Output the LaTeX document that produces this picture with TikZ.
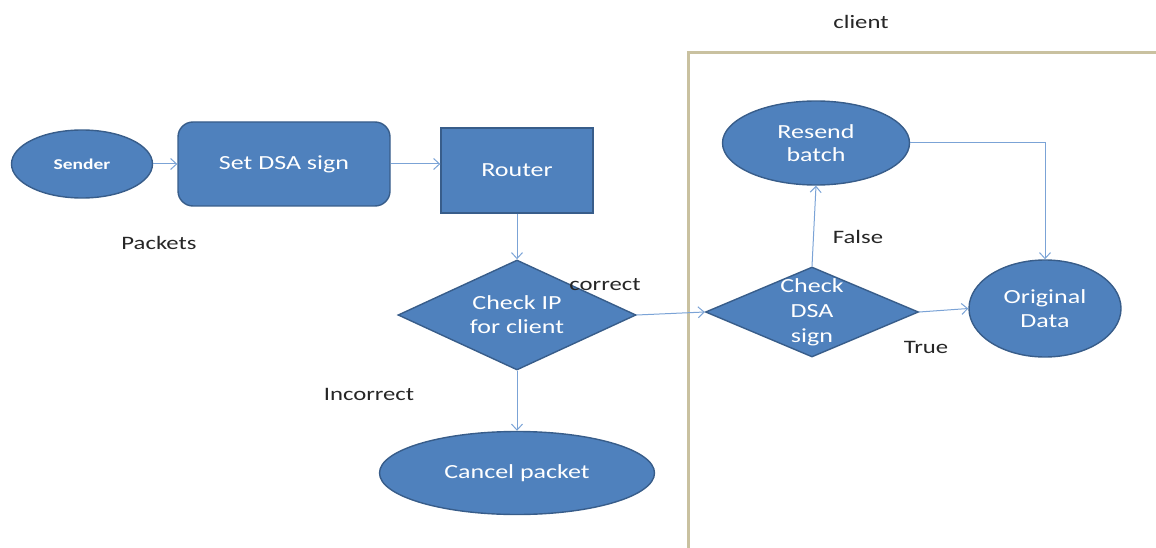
\documentclass[tikz,border=0pt]{standalone}
\usepackage{fontspec}
\setmainfont{Carlito}[FakeStretch=1.3]
\usetikzlibrary{shapes.geometric,arrows.meta}
\definecolor{boxfill}{HTML}{4F81BD}
\definecolor{boxline}{HTML}{385D8A}
\definecolor{linkcol}{HTML}{7BA3D6}
\definecolor{framecol}{HTML}{C9C1A0}
\tikzset{
  shapebase/.style={fill=boxfill, draw=boxline, line width=1.4pt, text=white, align=center, inner sep=0pt},
  oval/.style={shapebase, ellipse},
  rectbox/.style={shapebase, rectangle},
  decision/.style={shapebase, diamond},
  link/.style={draw=linkcol, line width=1pt, -{Straight Barb[length=6pt,width=11pt,line width=1pt]}},
  note/.style={text=black!85, font=\fontsize{19}{22}\selectfont},
}
\begin{document}
\begin{tikzpicture}[x=1pt,y=-1pt]
\useasboundingbox (0,0) rectangle (1156,548);

% client frame
\draw[framecol, line width=3pt] (688,548) -- (688,53) -- (1158,53);
\node[note] (clientlbl) at (861,22) {client};

% sender side
\node[oval, minimum width=141pt, minimum height=68pt, font=\fontsize{15}{17}\selectfont\bfseries] (sender) at (82,164) {Sender};
\node[rectbox, rounded corners=15pt, minimum width=212pt, minimum height=84pt, font=\fontsize{20}{24}\selectfont] (setdsa) at (284,164) {Set DSA sign};
\node[rectbox, minimum width=152pt, minimum height=85pt, font=\fontsize{20}{24}\selectfont] (router) at (517,170.5) {Router};
\node[note] (packets) at (159,243) {Packets};

\node[decision, minimum width=238pt, minimum height=110pt, aspect=2.16, inner sep=-4pt, font=\fontsize{20}{24}\selectfont] (checkip) at (517,315) {Check IP\\for client};
\node[note] (correct) at (605,285) {correct};
\node[note] (incorrect) at (369,394) {Incorrect};
\node[oval, minimum width=275pt, minimum height=83pt, font=\fontsize{20}{24}\selectfont] (cancel) at (517,473) {Cancel packet};

% client side
\node[oval, minimum width=187pt, minimum height=84pt, font=\fontsize{20}{23}\selectfont] (resend) at (816,143) {Resend\\batch};
\node[decision, minimum width=213pt, minimum height=90pt, aspect=2.37, inner sep=-4pt, font=\fontsize{20}{25}\selectfont] (checkdsa) at (812,312) {Check\\DSA\\sign};
\node[oval, minimum width=152pt, minimum height=97pt, font=\fontsize{20}{24}\selectfont] (orig) at (1045,308.5) {Original\\Data};
\node[note] (false) at (858,237) {False};
\node[note] (true) at (926,347) {True};

% connectors
\draw[link] (sender.east) -- (setdsa.west);
\draw[link] (setdsa.east) -- (router.west |- setdsa.east);
\draw[link] (router.south -| checkip.north) -- (checkip.north);
\draw[link] (checkip.east) -- (checkdsa.west);
\draw[link] (checkip.south) -- (cancel.north);
\draw[link] (checkdsa.north) -- (resend.south);
\draw[link] (checkdsa.east) -- (orig.west);
\draw[link] (resend.east) -- (orig.north |- resend.east) -- (orig.north);
\end{tikzpicture}
\end{document}
